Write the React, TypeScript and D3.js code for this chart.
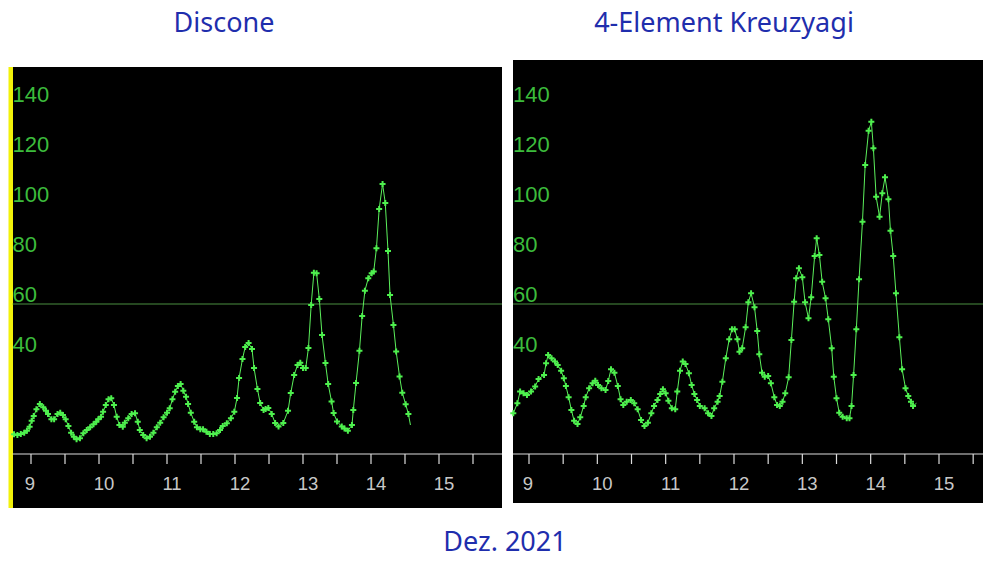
import React from 'react';
import * as d3 from 'd3';

// days (Dez. 2021) and readings
const disconeDays = [
  8.75, 8.80, 8.85, 8.90, 8.94, 8.98, 9.01, 9.04, 9.08, 9.13, 9.18, 9.22, 9.25, 9.30, 9.34, 9.39,
  9.43, 9.47, 9.51, 9.55, 9.59, 9.63, 9.67, 9.72, 9.77, 9.82, 9.87, 9.92, 9.96, 9.99, 10.03, 10.06,
  10.10, 10.14, 10.18, 10.22, 10.26, 10.30, 10.35, 10.38, 10.43, 10.48, 10.53, 10.57, 10.60, 10.65,
  10.70, 10.75, 10.80, 10.85, 10.90, 10.95, 11.00, 11.04, 11.08, 11.12, 11.16, 11.20, 11.24, 11.28,
  11.31, 11.35, 11.40, 11.44, 11.49, 11.53, 11.58, 11.63, 11.68, 11.73, 11.78, 11.82, 11.88, 11.94,
  11.99, 12.03, 12.06, 12.11, 12.15, 12.20, 12.25, 12.28, 12.33, 12.37, 12.42, 12.45, 12.49, 12.54,
  12.59, 12.64, 12.71, 12.78, 12.82, 12.87, 12.92, 12.96, 13.00, 13.04, 13.08, 13.12, 13.16, 13.20,
  13.24, 13.28, 13.33, 13.37, 13.42, 13.45, 13.50, 13.57, 13.61, 13.66, 13.72, 13.74, 13.78, 13.83,
  13.87, 13.91, 13.96, 14.01, 14.04, 14.08, 14.12, 14.17, 14.21, 14.25, 14.28, 14.33, 14.37, 14.42,
  14.46, 14.51, 14.55, 14.58,
];
const disconeValues = [
  7.9, 7.6, 8, 8.5, 9.3, 10.9, 13.3, 15.2, 17.9, 20, 18.7, 17.3, 16, 13.9, 13.9, 16,
  16.5, 15.6, 13.9, 11.2, 8.5, 6.9, 5.9, 6.3, 8.3, 9.6, 10.7, 11.9, 12.9, 13.9, 14.9, 16.9,
  19.6, 21.9, 22.3, 19.6, 14.9, 11.6, 10.9, 12.5, 14.3, 16, 16.3, 12.9, 9.6, 7.6,
  6.3, 6.9, 8.5, 10.7, 12.5, 14.7, 16.5, 18.3, 21.9, 24.9, 27.2, 28, 25.3, 22.9,
  20, 16.5, 12.9, 10.7, 9.9, 9.9, 8.9, 8, 8, 8.3, 9.6, 11.2, 12.3, 14.3,
  16.9, 22.4, 30.4, 38, 42.8, 44.4, 42, 34.4, 26, 20.4, 17.6, 18, 18.4, 16,
  12.4, 11, 12.4, 17.3, 24.4, 31.6, 35.6, 36.5, 34.4, 34.4, 42.4, 59.6, 72.5, 72.3,
  62, 47.6, 36.4, 28, 21, 16.4, 13, 11, 10.2, 9.3, 11.6, 17.6, 28.4, 41.3,
  55.2, 65.3, 70.3, 72.3, 73, 82.3, 98, 108, 100.4, 81.2, 63.6, 51.6, 41, 31,
  24.5, 19.9, 16, 11.6,
];

const yagiDays = [
  8.77, 8.83, 8.87, 8.92, 8.97, 9.03, 9.09, 9.14, 9.22, 9.25, 9.28, 9.33, 9.38, 9.42, 9.47, 9.51,
  9.54, 9.58, 9.62, 9.66, 9.71, 9.75, 9.80, 9.83, 9.88, 9.93, 9.97, 10.01, 10.06, 10.12, 10.16, 10.20,
  10.25, 10.30, 10.34, 10.38, 10.43, 10.49, 10.54, 10.59, 10.64, 10.69, 10.74, 10.79, 10.83, 10.88,
  10.92, 10.96, 11.00, 11.04, 11.09, 11.14, 11.17, 11.21, 11.25, 11.29, 11.34, 11.38, 11.42, 11.46,
  11.50, 11.57, 11.62, 11.67, 11.71, 11.76, 11.79, 11.83, 11.88, 11.93, 11.97, 12.01, 12.05, 12.08,
  12.12, 12.17, 12.21, 12.25, 12.30, 12.34, 12.37, 12.41, 12.45, 12.50, 12.54, 12.59, 12.63, 12.67,
  12.71, 12.75, 12.80, 12.84, 12.88, 12.91, 12.95, 13.00, 13.04, 13.09, 13.13, 13.18, 13.21, 13.25,
  13.29, 13.34, 13.38, 13.43, 13.46, 13.50, 13.54, 13.59, 13.65, 13.69, 13.72, 13.75, 13.79, 13.83,
  13.88, 13.92, 13.97, 14.01, 14.04, 14.08, 14.13, 14.17, 14.21, 14.26, 14.29, 14.33, 14.37, 14.42,
  14.46, 14.51, 14.55, 14.59, 14.62, 14.67,
];
const yagiValues = [
  16.3, 20.3, 25, 24.3, 23.6, 25, 27, 30, 31.6, 36.3, 39.6, 38.3, 37, 35.6, 33.3, 30.3,
  27.2, 22.7, 17.6, 13.3, 12, 14.7, 19.2, 22.7, 26.3, 28.3, 29.3, 27.6, 26.3, 25.6, 29.2, 33.9,
  32.5, 27.2, 21.9, 19.6, 20.9, 21.6, 20.3, 17.9, 13.6, 11.2, 12.5, 16.3, 19.2, 21.6,
  24, 25.9, 24.3, 21.3, 18.3, 17.9, 25, 33.3, 37, 36, 32.3, 27.6, 24, 21.6,
  19.2, 18.3, 16.3, 15.2, 18.3, 20.9, 23.2, 28.9, 38.3, 45.9, 49.9, 49.9, 45.9, 40.9,
  42.3, 50.7, 60.7, 64.3, 58.7, 49.2, 39.9, 32.5, 30.9, 31.2, 28.3, 22.7, 19.6, 19.2,
  20.9, 24.3, 30.7, 45.6, 60.9, 70.3, 74.3, 70.7, 60.7, 54.3, 62.7, 79.2, 86.3, 79.6,
  68.9, 62.3, 53.9, 42.3, 30.9, 22.3, 16.5, 14.9, 14.3, 14.3, 19.2, 31.6, 49.9, 69.9,
  92.9, 115.6, 129.3, 132.9, 122.3, 102.9, 94.9, 104.3, 110.7, 101.9, 89.3, 79.2, 64.3, 46.7,
  33.9, 26.3, 23.2, 20.9, 19.2, 20.3,
];

const yTickValues = [40, 60, 80, 100, 120, 140];
const dayLabels = [9, 10, 11, 12, 13, 14, 15];
const halfDayTicks = [9, 9.5, 10, 10.5, 11, 11.5, 12, 12.5, 13, 13.5, 14, 14.5, 15, 15.5];
const refLevel = 60;
const titles = ['Discone', '4-Element Kreuzyagi'];
const footer = 'Dez. 2021';

const titleFont = '"Noto Sans", "Open Sans", sans-serif';
const axisFont = '"Liberation Sans", Arial, sans-serif';
const titleColor = '#1f2ead';

interface PanelProps {
  left: number;
  right: number;
  top: number;
  bottom: number;
  x9: number;
  x15: number;
  days: number[];
  values: number[];
  yellow?: boolean;
}

const Panel = ({ left, right, top, bottom, x9, x15, days, values, yellow }: PanelProps) => {
  const x = d3.scaleLinear().domain([9, 15]).range([x9, x15]);
  const y = d3.scaleLinear().domain([0, 140]).range([454, 104]);
  const pts = days.map((d, i) => [d, values[i]] as [number, number]);
  const line = d3.line<[number, number]>().x(d => x(d[0])).y(d => y(d[1]));
  const cross = d3.symbol().type(d3.symbolCross).size(20)();

  return (
    <g>
      <rect x={left} y={top} width={right - left} height={bottom - top} fill="#000" />
      {yellow && <rect x={left - 4} y={top} width={4.5} height={bottom - top} fill="#f2f20a" />}
      <line x1={left} x2={right} y1={y(refLevel)} y2={y(refLevel)} stroke="#4a8f40" strokeWidth={1} />
      {yTickValues.map(v => (
        <text key={v} x={left} y={y(v) - 2} fill="#3cbc3c" fontFamily={axisFont} fontSize={22}>
          {v}
        </text>
      ))}
      <line x1={left} x2={right} y1={y(0)} y2={y(0)} stroke="#dcdcdc" strokeWidth={1.2} />
      {halfDayTicks.filter(t => x(t) < right).map(t => (
        <line key={t} x1={x(t)} x2={x(t)} y1={y(0)} y2={y(0) + 10} stroke="#dcdcdc" strokeWidth={1.2} />
      ))}
      {dayLabels.map(d => (
        <text key={d} x={x(d) + (d < 10 ? -1 : 5)} y={490} fill="#c8c8c8"
          fontFamily={axisFont} fontSize={18.5} textAnchor="middle">
          {d}
        </text>
      ))}
      <path d={line(pts) || ''} fill="none" stroke="#5cf05c" strokeWidth={1} />
      {pts.slice(0, -1).map((p, i) => (
        <path key={i} d={cross || ''} transform={`translate(${x(p[0])},${y(p[1])})`} fill="#4ef04e" />
      ))}
    </g>
  );
};

const App = () => (
  <svg width={997} height={566} style={{ position: 'absolute', left: 0, top: 0, background: '#fff' }}>
    <Panel left={12.5} right={502} top={67} bottom={508} x9={31} x15={439}
      days={disconeDays} values={disconeValues} yellow />
    <Panel left={513} right={983} top={60} bottom={503} x9={529} x15={939}
      days={yagiDays} values={yagiValues} />
    <text x={224} y={32} textAnchor="middle" fill={titleColor} fontFamily={titleFont} fontSize={27}>{titles[0]}</text>
    <text x={724} y={32} textAnchor="middle" fill={titleColor} fontFamily={titleFont} fontSize={27}>{titles[1]}</text>
    <text x={505} y={551} textAnchor="middle" fill={titleColor} fontFamily={titleFont} fontSize={27}>{footer}</text>
  </svg>
);

export default App;
